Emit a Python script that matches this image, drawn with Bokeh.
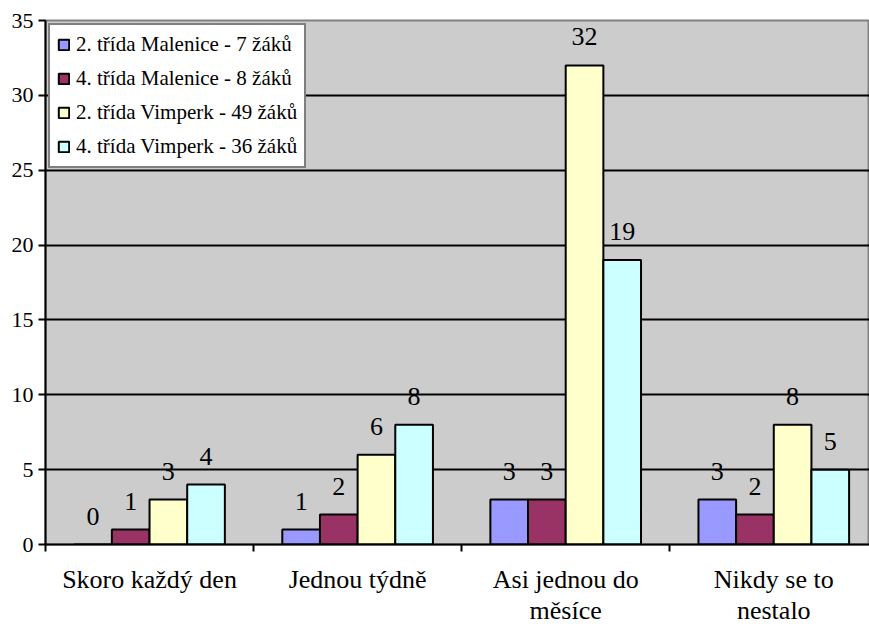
from bokeh.plotting import figure
from bokeh.models import ColumnDataSource, Range1d, FixedTicker, LabelSet, Legend, LegendItem
from bokeh.transform import dodge
from bokeh.embed import file_html
from bokeh.resources import INLINE

# ---- data ----
categories = ["Skoro každý den", "Jednou týdně", "Asi jednou do\nměsíce", "Nikdy se to\nnestalo"]
series_names = [
    "2. třída Malenice - 7 žáků",
    "4. třída Malenice - 8 žáků",
    "2. třída Vimperk - 49 žáků",
    "4. třída Vimperk - 36 žáků",
]
malenice_2 = [0, 1, 3, 3]
malenice_4 = [1, 2, 3, 2]
vimperk_2 = [3, 6, 32, 8]
vimperk_4 = [4, 8, 19, 5]
y_ticks = [0, 5, 10, 15, 20, 25, 30, 35]

# ---- style ----
colors = ["#9999FF", "#993366", "#FFFFCC", "#CCFFFF"]
FONT = "Liberation Serif"
bar_w = 0.181

cat_pos = [i + 0.5 for i in range(len(categories))]
cat_bounds = [i for i in range(len(categories) + 1)]

src = ColumnDataSource(dict(
    x=cat_pos,
    s0=malenice_2, s1=malenice_4, s2=vimperk_2, s3=vimperk_4,
    t0=[str(v) for v in malenice_2], t1=[str(v) for v in malenice_4],
    t2=[str(v) for v in vimperk_2], t3=[str(v) for v in vimperk_4],
))

p = figure(width=869, height=628, output_backend="svg", toolbar_location=None,
           x_range=Range1d(0, 3.96), y_range=Range1d(0, 35),
           min_border_left=45, min_border_right=0, min_border_top=20, min_border_bottom=83)

p.background_fill_color = "#cccccc"
p.border_fill_color = "white"
p.outline_line_color = "#808080"
p.outline_line_width = 2

# grid
p.xgrid.visible = False
p.ygrid.ticker = FixedTicker(ticks=y_ticks[1:-1])
p.ygrid.grid_line_color = "black"
p.ygrid.grid_line_width = 2

# y axis
p.yaxis.ticker = FixedTicker(ticks=y_ticks)
p.yaxis.axis_line_color = "black"
p.yaxis.axis_line_width = 2
p.yaxis.major_tick_line_color = "black"
p.yaxis.major_tick_line_width = 2
p.yaxis.major_tick_out = 7
p.yaxis.major_tick_in = 0
p.yaxis.minor_tick_line_color = None
p.yaxis.major_label_text_font = FONT
p.yaxis.major_label_text_font_size = "22px"
p.yaxis.major_label_text_color = "black"
p.yaxis.major_label_standoff = 5

# x axis
p.xaxis.ticker = FixedTicker(ticks=cat_pos, minor_ticks=cat_bounds)
p.xaxis.major_label_overrides = {pos: lab for pos, lab in zip(cat_pos, categories)}
p.xaxis.axis_line_color = "black"
p.xaxis.axis_line_width = 2
p.xaxis.major_tick_line_color = None
p.xaxis.major_tick_out = 0
p.xaxis.major_tick_in = 0
p.xaxis.minor_tick_line_color = "black"
p.xaxis.minor_tick_line_width = 2
p.xaxis.minor_tick_out = 7
p.xaxis.minor_tick_in = 0
p.xaxis.major_label_text_font = FONT
p.xaxis.major_label_text_font_size = "26px"
p.xaxis.major_label_text_color = "black"
p.xaxis.major_label_text_line_height = 1.1
p.xaxis.major_label_standoff = 13

offsets = [-1.5 * bar_w, -0.5 * bar_w, 0.5 * bar_w, 1.5 * bar_w]
items = []
for k in range(4):
    r = p.vbar(x=dodge("x", offsets[k]), top=f"s{k}", width=bar_w, source=src,
               fill_color=colors[k], line_color="black", line_width=2)
    items.append(LegendItem(label=series_names[k], renderers=[r]))
    labels = LabelSet(x=dodge("x", offsets[k]), y=f"s{k}", text=f"t{k}", source=src,
                      text_align="center", text_baseline="alphabetic", y_offset=20,
                      text_font=FONT, text_font_size="26px", text_color="black")
    p.add_layout(labels)

legend = Legend(items=items, location="top_left", margin=3,
                padding=7, spacing=9, label_height=24, glyph_width=13, glyph_height=13,
                label_standoff=6, label_text_font=FONT, label_text_font_size="21px",
                label_text_color="black", border_line_color="black", border_line_width=2,
                background_fill_color="white", background_fill_alpha=1.0)
p.add_layout(legend)

open("out.html", "w").write(file_html(p, INLINE))
